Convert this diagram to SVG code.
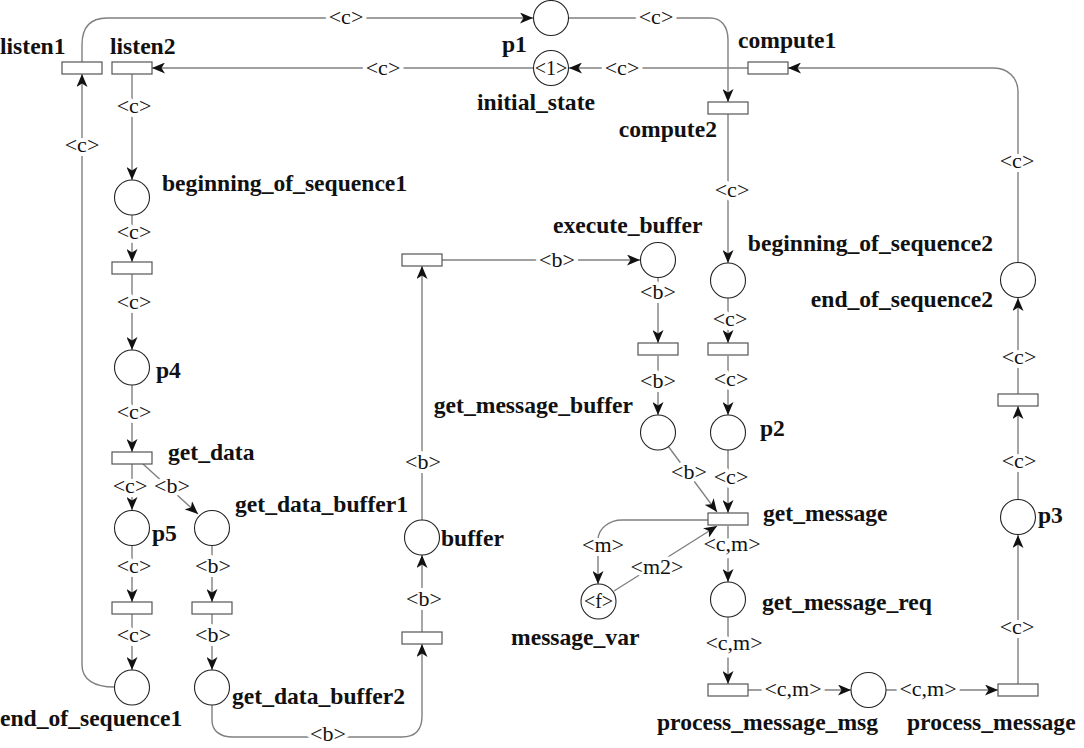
<svg xmlns="http://www.w3.org/2000/svg" width="1084" height="748" viewBox="0 0 1084 748">
<defs>
<style>
.n{font-family:"Liberation Serif","Times New Roman",serif;font-weight:bold;font-size:23.6px;fill:#111}
.e{font-family:"Liberation Serif","Times New Roman",serif;font-size:22px;fill:#111;text-anchor:middle;paint-order:stroke;stroke:#fff;stroke-width:8px;stroke-linejoin:round}
.k{font-family:"Liberation Serif","Times New Roman",serif;font-size:20px;fill:#111;text-anchor:middle}
.a{fill:none;stroke:#808080;stroke-width:1.4;marker-end:url(#ah)}
.p{fill:#fff;stroke:#222;stroke-width:1.1}
.t{fill:#fff;stroke:#555;stroke-width:1.2}
</style>
<marker id="ah" markerUnits="userSpaceOnUse" markerWidth="13" markerHeight="11" refX="13" refY="5.5" orient="auto">
<path d="M0,0 L13,5.5 L0,11 L3.5,5.5 z" fill="#111"/>
</marker>
</defs>
<rect width="1084" height="748" fill="#fff"/>
<g id="connectors">
<path class="a" d="M82,62 V45 C82,26 92,18 107,18 H533"/>
<path class="a" d="M569,18 H710 C721,18 728,26 728,40 V102"/>
<path class="a" d="M748,68 H569"/>
<path class="a" d="M533,68 H152"/>
<path class="a" d="M132,74 V180"/>
<path class="a" d="M132,215 V262"/>
<path class="a" d="M132,274 V350"/>
<path class="a" d="M132,385 V452"/>
<path class="a" d="M132,464 V510"/>
<path class="a" d="M143,464 L198,514"/>
<path class="a" d="M132,546 V602"/>
<path class="a" d="M132,614 V670"/>
<path class="a" d="M114,687 C95,687 82,680 82,665 V74"/>
<path class="a" d="M212,546 V602"/>
<path class="a" d="M212,614 V670"/>
<path class="a" d="M212,705 V720 C212,731 220,737 233,737 H402 C415,737 422,730 422,716 V644"/>
<path class="a" d="M422,632 V555"/>
<path class="a" d="M422,520 V266"/>
<path class="a" d="M442,260 H640"/>
<path class="a" d="M658,277 V343"/>
<path class="a" d="M658,356 V415"/>
<path class="a" d="M728,114 V263"/>
<path class="a" d="M728,298 V343"/>
<path class="a" d="M728,356 V415"/>
<path class="a" d="M668,446 L717,512"/>
<path class="a" d="M728,450 V513"/>
<path class="a" d="M708,520 H622 C610,520 598,528 598,540 V584"/>
<path class="a" d="M614,591 L717,526"/>
<path class="a" d="M728,526 V582"/>
<path class="a" d="M728,617 V684"/>
<path class="a" d="M748,690 H851"/>
<path class="a" d="M886,690 H998"/>
<path class="a" d="M1018,684 V535"/>
<path class="a" d="M1018,499 V406"/>
<path class="a" d="M1018,394 V298"/>
<path class="a" d="M1018,262 V92 C1018,78 1008,68 994,68 H788"/>
<text class="e" x="346" y="24">&lt;c&gt;</text>
<text class="e" x="656" y="24">&lt;c&gt;</text>
<text class="e" x="622" y="75">&lt;c&gt;</text>
<text class="e" x="383" y="75">&lt;c&gt;</text>
<text class="e" x="134" y="113">&lt;c&gt;</text>
<text class="e" x="82" y="152">&lt;c&gt;</text>
<text class="e" x="134" y="239">&lt;c&gt;</text>
<text class="e" x="134" y="309">&lt;c&gt;</text>
<text class="e" x="134" y="419">&lt;c&gt;</text>
<text class="e" x="130" y="493">&lt;c&gt;</text>
<text class="e" x="172" y="493">&lt;b&gt;</text>
<text class="e" x="134" y="573">&lt;c&gt;</text>
<text class="e" x="134" y="642">&lt;c&gt;</text>
<text class="e" x="213" y="573">&lt;b&gt;</text>
<text class="e" x="213" y="642">&lt;b&gt;</text>
<text class="e" x="328" y="741">&lt;b&gt;</text>
<text class="e" x="424" y="606">&lt;b&gt;</text>
<text class="e" x="423" y="469">&lt;b&gt;</text>
<text class="e" x="557" y="267">&lt;b&gt;</text>
<text class="e" x="658" y="299">&lt;b&gt;</text>
<text class="e" x="658" y="388">&lt;b&gt;</text>
<text class="e" x="732" y="197">&lt;c&gt;</text>
<text class="e" x="730" y="326">&lt;c&gt;</text>
<text class="e" x="731" y="386">&lt;c&gt;</text>
<text class="e" x="689" y="479">&lt;b&gt;</text>
<text class="e" x="731" y="484">&lt;c&gt;</text>
<text class="e" x="603" y="552">&lt;m&gt;</text>
<text class="e" x="657" y="574">&lt;m2&gt;</text>
<text class="e" x="732" y="551">&lt;c,m&gt;</text>
<text class="e" x="734" y="650">&lt;c,m&gt;</text>
<text class="e" x="793" y="696">&lt;c,m&gt;</text>
<text class="e" x="928" y="696">&lt;c,m&gt;</text>
<text class="e" x="1017" y="634">&lt;c&gt;</text>
<text class="e" x="1019" y="468">&lt;c&gt;</text>
<text class="e" x="1019" y="364">&lt;c&gt;</text>
<text class="e" x="1017" y="168">&lt;c&gt;</text>
</g>
<g id="listen1"><rect class="t" x="62" y="62" width="40" height="12"/><text class="n" x="0" y="54">listen1</text></g>
<g id="listen2"><rect class="t" x="112" y="62" width="40" height="12"/><text class="n" x="110" y="54">listen2</text></g>
<g id="p1"><circle class="p" cx="551" cy="18" r="17.5"/><text class="n" x="502" y="52">p1</text></g>
<g id="initial_state"><circle class="p" cx="551" cy="68" r="17.5"/><text class="k" x="551" y="75">&lt;1&gt;</text><text class="n" x="536" y="110" text-anchor="middle">initial_state</text></g>
<g id="compute1"><rect class="t" x="748" y="62" width="40" height="12"/><text class="n" x="738" y="48">compute1</text></g>
<g id="compute2"><rect class="t" x="708" y="102" width="40" height="12"/><text class="n" x="717" y="137" text-anchor="end">compute2</text></g>
<g id="beginning_of_sequence1"><circle class="p" cx="132" cy="197.5" r="17.5"/><text class="n" x="162" y="191">beginning_of_sequence1</text></g>
<g id="t_bos1"><rect class="t" x="112" y="262" width="40" height="12"/></g>
<g id="p4"><circle class="p" cx="132" cy="367.5" r="17.5"/><text class="n" x="156" y="378">p4</text></g>
<g id="get_data"><rect class="t" x="112" y="452" width="40" height="12"/><text class="n" x="168" y="460">get_data</text></g>
<g id="p5"><circle class="p" cx="132" cy="528" r="17.5"/><text class="n" x="152" y="541">p5</text></g>
<g id="t_p5"><rect class="t" x="112" y="602" width="40" height="12"/></g>
<g id="end_of_sequence1"><circle class="p" cx="132" cy="687.5" r="17.5"/><text class="n" x="0" y="726">end_of_sequence1</text></g>
<g id="get_data_buffer1"><circle class="p" cx="212" cy="528" r="17.5"/><text class="n" x="235" y="512">get_data_buffer1</text></g>
<g id="t_gdb1"><rect class="t" x="192" y="602" width="40" height="12"/></g>
<g id="get_data_buffer2"><circle class="p" cx="212" cy="687.5" r="17.5"/><text class="n" x="232" y="704">get_data_buffer2</text></g>
<g id="t_buffer_in"><rect class="t" x="402" y="632" width="40" height="12"/></g>
<g id="buffer"><circle class="p" cx="422" cy="537.5" r="17.5"/><text class="n" x="441" y="546">buffer</text></g>
<g id="t_buffer_out"><rect class="t" x="402" y="254" width="40" height="12"/></g>
<g id="execute_buffer"><circle class="p" cx="658" cy="260" r="17.5"/><text class="n" x="553" y="233">execute_buffer</text></g>
<g id="t_exec"><rect class="t" x="638" y="343" width="40" height="12"/></g>
<g id="get_message_buffer"><circle class="p" cx="658" cy="432.5" r="17.5"/><text class="n" x="633" y="413" text-anchor="end">get_message_buffer</text></g>
<g id="beginning_of_sequence2"><circle class="p" cx="728" cy="280.5" r="17.5"/><text class="n" x="993" y="251" text-anchor="end">beginning_of_sequence2</text></g>
<g id="t_bos2"><rect class="t" x="708" y="343" width="40" height="12"/></g>
<g id="p2"><circle class="p" cx="728" cy="432.5" r="17.5"/><text class="n" x="760" y="436">p2</text></g>
<g id="get_message"><rect class="t" x="708" y="513" width="40" height="12"/><text class="n" x="763" y="521">get_message</text></g>
<g id="message_var"><circle class="p" cx="598.5" cy="601.5" r="17.5"/><text class="k" x="598.5" y="608">&lt;f&gt;</text><text class="n" x="511" y="645">message_var</text></g>
<g id="get_message_req"><circle class="p" cx="728" cy="599.5" r="17.5"/><text class="n" x="762" y="610">get_message_req</text></g>
<g id="process_message_msg"><rect class="t" x="708" y="684" width="40" height="12"/><text class="n" x="657" y="730">process_message_msg</text></g>
<g id="p_msg"><circle class="p" cx="868.5" cy="690" r="17.5"/></g>
<g id="process_message"><rect class="t" x="998" y="684" width="40" height="12"/><text class="n" x="907" y="730">process_message</text></g>
<g id="p3"><circle class="p" cx="1018" cy="517" r="17.5"/><text class="n" x="1038" y="523">p3</text></g>
<g id="t_p3"><rect class="t" x="998" y="394" width="40" height="12"/></g>
<g id="end_of_sequence2"><circle class="p" cx="1018" cy="280" r="17.5"/><text class="n" x="993" y="307" text-anchor="end">end_of_sequence2</text></g>
</svg>
